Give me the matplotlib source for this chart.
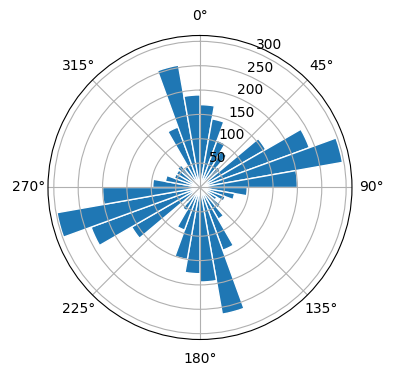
import numpy as np
import matplotlib
matplotlib.use("Agg")
import matplotlib.pyplot as plt

# direction bins (degrees, left edge of each 10 degree sector)
bin_edges = list(range(0, 360, 10))
# counts per sector
counts = [170, 143, 103, 85, 55, 156, 239, 297, 200,
          97, 72, 55, 40, 55, 75, 137, 264, 194,
          177, 150, 93, 55, 40, 162, 238, 298, 200,
          97, 72, 56, 56, 60, 50, 132, 255, 190]
radial_ticks = [50, 100, 150, 200, 250, 300]

fig = plt.figure(figsize=(3.96, 3.80), dpi=100)
ax = fig.add_axes([0.121, 0.1066, 0.768, 0.8], projection='polar')
ax.set_theta_zero_location('N')
ax.set_theta_direction(-1)

ax.bar(np.deg2rad(bin_edges), counts, width=np.deg2rad(10), align='edge',
       bottom=0, color='#1f77b4', edgecolor='white', linewidth=1)

ax.set_rmax(312)
ax.set_rticks(radial_ticks)
ax.set_rlabel_position(22.5)
ax.grid(True)

fig.savefig('out.png', dpi=100)
